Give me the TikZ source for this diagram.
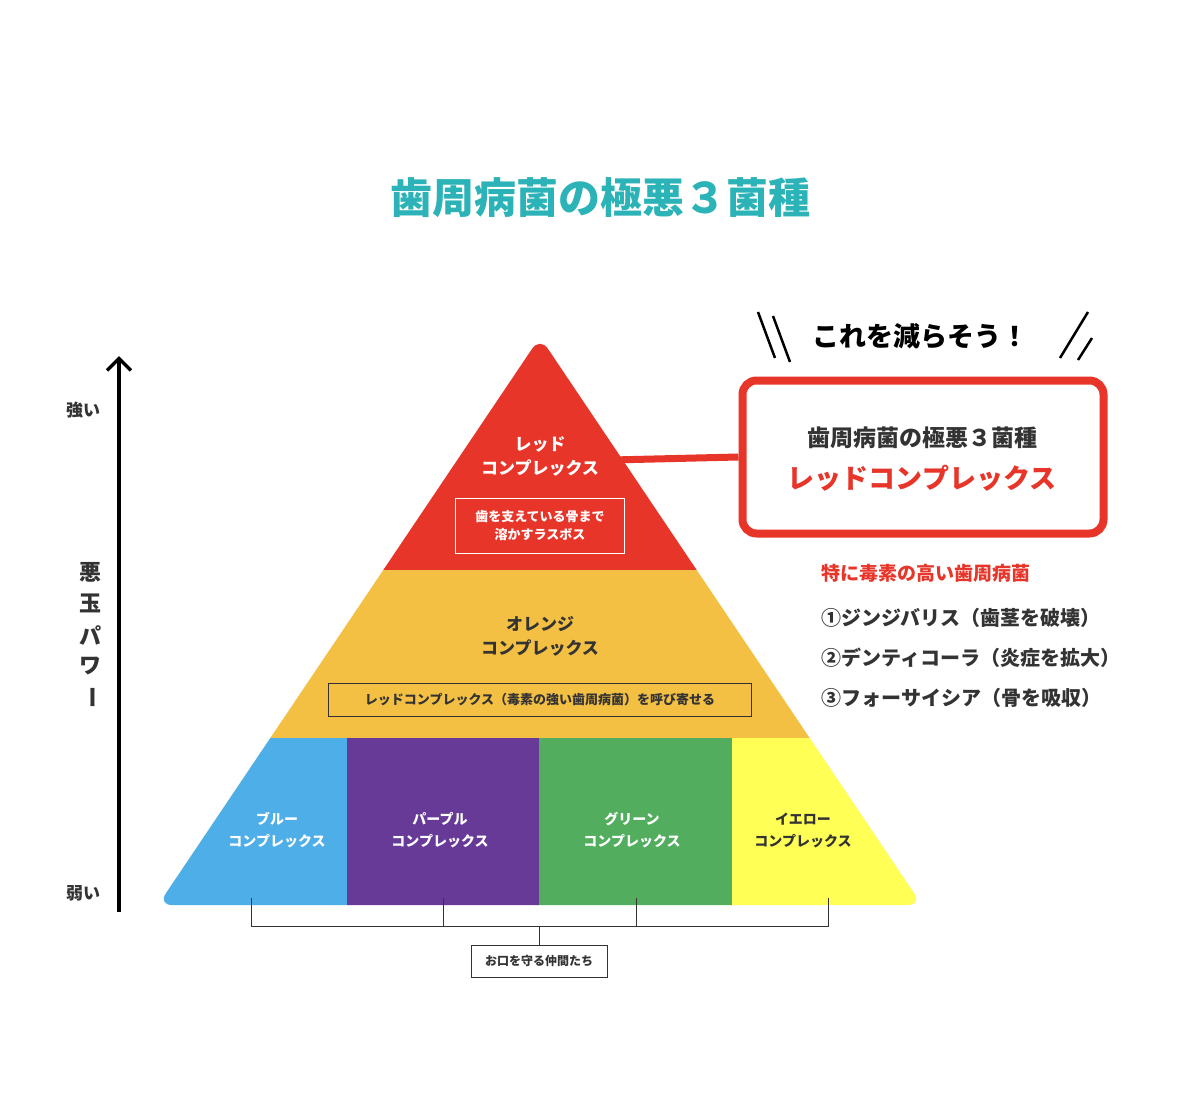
\documentclass[tikz,border=0pt]{standalone}
\usepackage{fontspec}
\setmainfont{Noto Sans CJK JP}
\usetikzlibrary{arrows.meta}
\definecolor{teal1}{HTML}{2BB3B8}
\definecolor{red1}{HTML}{E8352A}
\definecolor{org}{HTML}{F3C044}
\definecolor{blu}{HTML}{4EAEE8}
\definecolor{pur}{HTML}{673A97}
\definecolor{grn}{HTML}{52AD5E}
\definecolor{yel}{HTML}{FFFF55}
\definecolor{dk}{HTML}{333333}
\tikzset{
 wt/.style={text=white,font=\bfseries\fontsize{17}{20}\selectfont,align=center},
 dt/.style={text=dk,font=\bfseries\fontsize{17}{20}\selectfont,align=center},
 bt/.style={font=\bfseries\fontsize{14}{16}\selectfont,align=center},
 lst/.style={text=dk,font=\bfseries\fontsize{20}{24}\selectfont,anchor=west},
}
\begin{document}
\begin{tikzpicture}[x=1pt,y=-1pt]
\useasboundingbox[fill=white] (0,0) rectangle (1200,1105);
\node[text=teal1,font=\bfseries\fontsize{42}{48}\selectfont] (title) at (600,198) {歯周病菌の極悪３菌種};
% pyramid
\begin{scope}
\clip[rounded corners=14pt] (540,337) -- (922,905) -- (158,905) -- cycle;
\fill[red1] (150,330) rectangle (930,570);
\fill[org] (150,570) rectangle (930,738);
\fill[blu] (150,738) rectangle (347,910);
\fill[pur] (347,738) rectangle (539,910);
\fill[grn] (539,738) rectangle (732,910);
\fill[yel] (732,738) rectangle (930,910);
\end{scope}
\coordinate (pj) at (612,460);
\node[wt] (red) at (540,456) {レッド\\[4pt]コンプレックス};
\node[draw=white,line width=0.8pt,bt,text=white,font=\bfseries\fontsize{13}{18}\selectfont,minimum width=169pt,minimum height=55pt] (rbox) at (540,526) {歯を支えている骨まで\\溶かすラスボス};
\node[dt] (orgt) at (540,636) {オレンジ\\[4pt]コンプレックス};
\node[draw=dk,line width=0.8pt,text=dk,font=\bfseries\fontsize{13}{16}\selectfont,minimum width=423pt,minimum height=33pt] (obox) at (540,700) {レッドコンプレックス（毒素の強い歯周病菌）を呼び寄せる};
\node[bt,text=white] (b1) at (277,830) {ブルー\\[6pt]コンプレックス};
\node[bt,text=white] (b2) at (440,830) {パープル\\[6pt]コンプレックス};
\node[bt,text=white] (b3) at (632,830) {グリーン\\[6pt]コンプレックス};
\node[bt,text=dk] (b4) at (803,830) {イエロー\\[6pt]コンプレックス};
% bracket
\coordinate (t1) at (251,898); \coordinate (t2) at (443,898);
\coordinate (t3) at (636,898); \coordinate (t4) at (828,898);
\draw[dk,line width=0.8pt] (t1) -- (251,926) -- (828,926) -- (t4);
\draw[dk,line width=0.8pt] (t2) -- (443,926) (t3) -- (636,926);
\node[draw=dk,line width=0.8pt,text=dk,font=\bfseries\fontsize{12}{14}\selectfont,minimum width=136pt,minimum height=32pt] (mates) at (539,961) {お口を守る仲間たち};
\draw[dk,line width=0.8pt] (539,926) -- (mates.north);
% axis
\coordinate (ab) at (119,912); \coordinate (at) at (119,356);
\draw[line width=3.5pt,-{Straight Barb[length=12pt,width=24pt,line width=3.5pt]}] (ab) -- (at);
\node[dt,font=\bfseries\fontsize{17}{20}\selectfont] (strong) at (83,410) {強い};
\node[dt,font=\bfseries\fontsize{17}{20}\selectfont] (weak) at (83,893) {弱い};
\node[dt,font=\bfseries\fontsize{22}{26}\selectfont] (v1) at (90,572) {悪};
\node[dt,font=\bfseries\fontsize{22}{26}\selectfont] (v2) at (90,603) {玉};
\node[dt,font=\bfseries\fontsize{22}{26}\selectfont] (v3) at (90,635) {パ};
\node[dt,font=\bfseries\fontsize{22}{26}\selectfont] (v4) at (90,666) {ワ};
\node[dt,font=\bfseries\fontsize{22}{26}\selectfont,rotate=-90] (v5) at (90,697) {ー};
% callout
\node[draw=red1,line width=8pt,rounded corners=14pt,minimum width=361pt,minimum height=153pt] (call) at (923,457) {};
\draw[red1,line width=7pt] (pj) -- (call.west);
\node[dt,font=\bfseries\fontsize{23}{26}\selectfont] (c1) at (922,438) {歯周病菌の極悪３菌種};
\node[text=red1,font=\bfseries\fontsize{27}{30}\selectfont] (c2) at (922,478) {レッドコンプレックス};
\node[text=black,font=\bfseries\fontsize{27}{30}\selectfont] (slog) at (920,336) {これを減らそう！};
\draw[line width=2.5pt] (758,312) -- (775,358) (773,316) -- (790,362);
\draw[line width=2.5pt] (1088,312) -- (1060,358) (1092,338) -- (1078,360);
% list
\node[lst,text=red1,font=\bfseries\fontsize{19}{22}\selectfont] (l0) at (818,573) {特に毒素の高い歯周病菌};
\node[lst] (l1) at (818,618) {①ジンジバリス（歯茎を破壊）};
\node[lst] (l2) at (818,658) {②デンティコーラ（炎症を拡大）};
\node[lst] (l3) at (818,698) {③フォーサイシア（骨を吸収）};
\end{tikzpicture}
\end{document}
